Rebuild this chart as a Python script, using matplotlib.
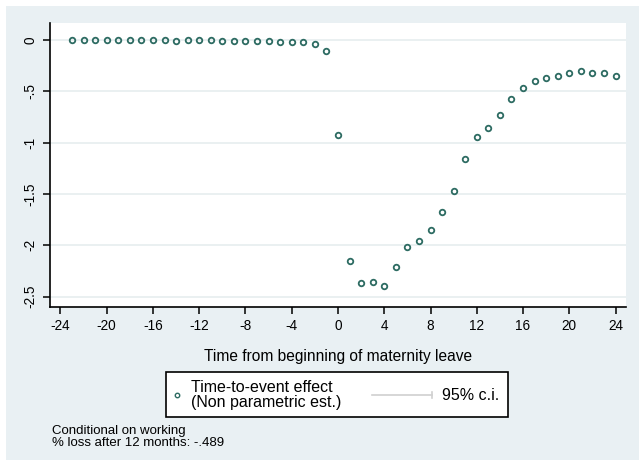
import matplotlib
matplotlib.use("Agg")
import matplotlib.pyplot as plt
from matplotlib.patches import Rectangle
from matplotlib.lines import Line2D

plt.rcParams['font.family'] = ['Liberation Sans', 'DejaVu Sans']

# ================== Data ==================

months = list(range(-23, 25))
effect = [0.0, 0.0, 0.0, 0.0, 0.0, 0.0, 0.0, 0.0, 0.0, -0.01,
          0.0, 0.0, 0.0, -0.01, -0.01, -0.01, -0.01, -0.01, -0.015, -0.015,
          -0.015, -0.04, -0.11,
          -0.926,
          -2.154, -2.365, -2.352, -2.391, -2.206, -2.011, -1.956, -1.852,
          -1.670, -1.472, -1.160, -0.949, -0.858, -0.728, -0.572, -0.465,
          -0.396, -0.374, -0.348, -0.318, -0.305, -0.318, -0.318, -0.348]
xticks = list(range(-24, 25, 4))
yticks = [0, -0.5, -1, -1.5, -2, -2.5]
ylabels = ["0", "-.5", "-1", "-1.5", "-2", "-2.5"]
note_lines = ["Conditional on working", "% loss after 12 months: -.489"]

W, H = 639, 467
mcol = '#2d6b62'
bg = '#e9f0f3'

fig = plt.figure(figsize=(W / 100, H / 100), dpi=100)
fig.patch.set_facecolor('white')
fig.add_artist(Rectangle((6 / W, 1 - 460 / H), 1 - 6 / W, (460 - 6) / H,
                         transform=fig.transFigure, facecolor=bg,
                         edgecolor='none', zorder=0))

ax = fig.add_axes([50 / W, 1 - 307 / H, (626 - 50) / W, (307 - 23) / H])
ax.set_facecolor('white')
ax.plot(months, effect, linestyle='none', marker='o', markersize=4.0,
        markerfacecolor='none', markeredgecolor=mcol, markeredgewidth=1.3,
        zorder=3)

ax.set_xlim(-24.9, 24.9)
ax.set_ylim(-2.6, 0.166)
ax.set_xticks(xticks)
ax.set_xticklabels([str(t) for t in xticks], fontsize=9.8)
ax.set_yticks(yticks)
ax.set_yticklabels(ylabels, fontsize=9.8, rotation=90, va='center')
ax.yaxis.grid(True, color='#e4ecee', linewidth=1.1)
ax.set_axisbelow(True)
for s in ['top', 'right']:
    ax.spines[s].set_visible(False)
for s in ['left', 'bottom']:
    ax.spines[s].set_linewidth(1.2)
ax.tick_params(direction='out', length=5, width=1.1, pad=4)
ax.set_xlabel("Time from beginning of maternity leave", fontsize=11.2,
              labelpad=11)

# ================== Legend ==================

fig.add_artist(Rectangle((166 / W, 1 - 417 / H), (508 - 166) / W, 45 / H,
                         transform=fig.transFigure, facecolor='white',
                         edgecolor='black', linewidth=1.2, zorder=2))
fig.add_artist(Line2D([177 / W], [1 - 395 / H], transform=fig.transFigure,
                      marker='o', markersize=3.2, markerfacecolor='none',
                      markeredgecolor=mcol, markeredgewidth=1.0, zorder=3))
fig.text(191 / W, 1 - 395 / H, "Time-to-event effect\n(Non parametric est.)",
         fontsize=11.5, va='center', ha='left', linespacing=0.95, zorder=3)
fig.add_artist(Line2D([372 / W, 432 / W], [1 - 395 / H, 1 - 395 / H],
                      transform=fig.transFigure, color='#d0d0d0', lw=1.2,
                      zorder=3))
fig.add_artist(Line2D([432 / W, 432 / W], [1 - 392 / H, 1 - 398 / H],
                      transform=fig.transFigure, color='#d0d0d0', lw=1.2,
                      zorder=3))
fig.text(442 / W, 1 - 395 / H, "95% c.i.", fontsize=11.5, va='center',
         ha='left', zorder=3)

fig.text(52 / W, 1 - 437 / H, "\n".join(note_lines), fontsize=9.5,
         va='center', ha='left', linespacing=0.95)

fig.savefig("out.png", dpi=100)
